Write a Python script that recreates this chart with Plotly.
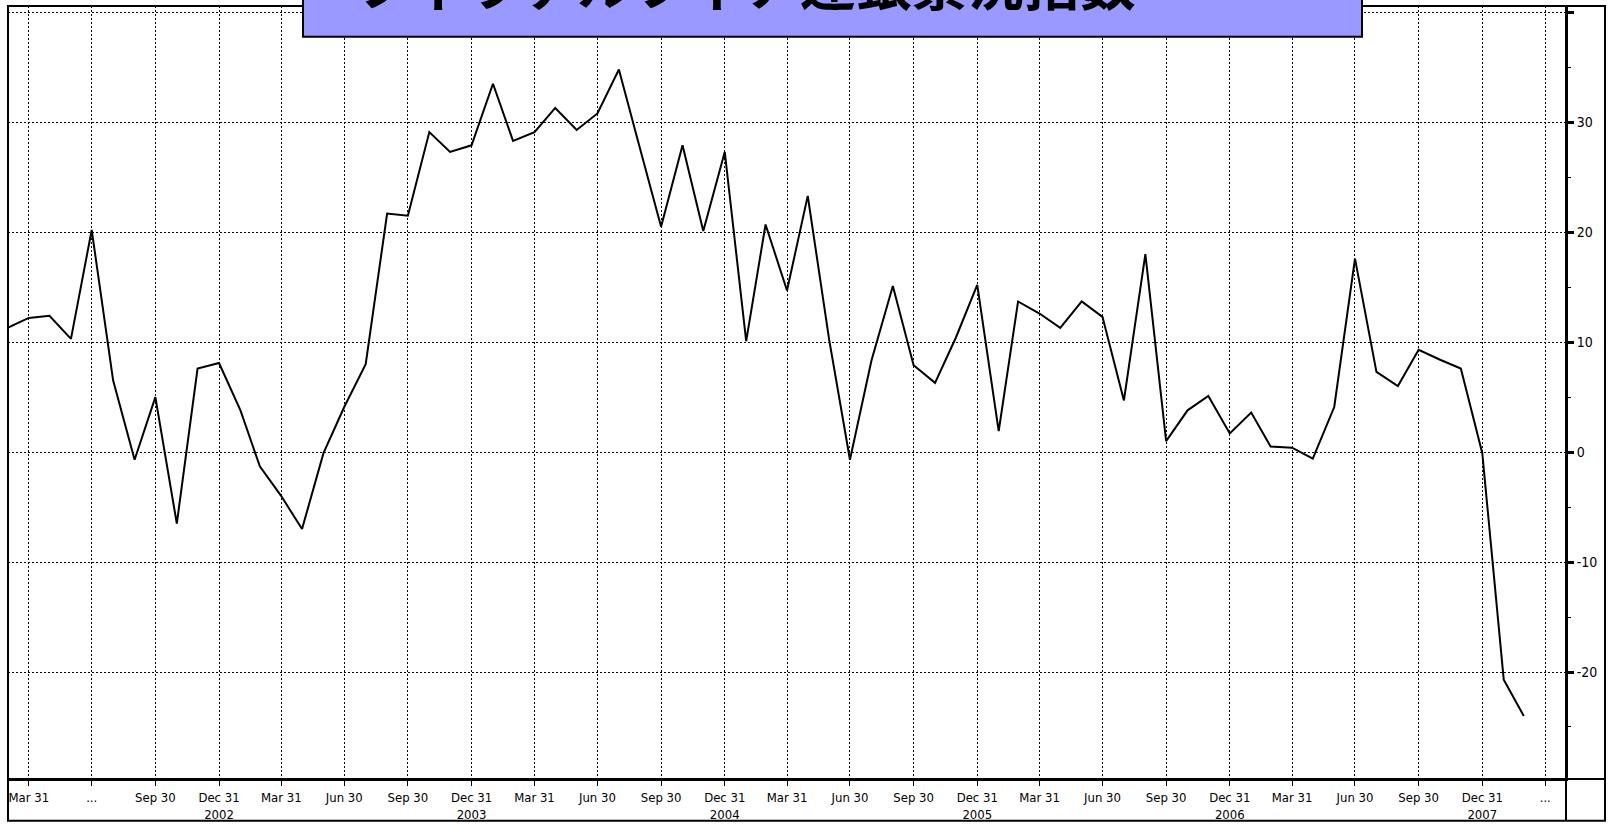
import plotly.graph_objects as go

# ---- data (month-end dates, Philadelphia Fed index) ----
months = [
    "2002-02-28", "2002-03-31", "2002-04-30", "2002-05-31", "2002-06-30", "2002-07-31",
    "2002-08-31", "2002-09-30", "2002-10-31", "2002-11-30", "2002-12-31",
    "2003-01-31", "2003-02-28", "2003-03-31", "2003-04-30", "2003-05-31", "2003-06-30",
    "2003-07-31", "2003-08-31", "2003-09-30", "2003-10-31", "2003-11-30", "2003-12-31",
    "2004-01-31", "2004-02-29", "2004-03-31", "2004-04-30", "2004-05-31", "2004-06-30",
    "2004-07-31", "2004-08-31", "2004-09-30", "2004-10-31", "2004-11-30", "2004-12-31",
    "2005-01-31", "2005-02-28", "2005-03-31", "2005-04-30", "2005-05-31", "2005-06-30",
    "2005-07-31", "2005-08-31", "2005-09-30", "2005-10-31", "2005-11-30", "2005-12-31",
    "2006-01-31", "2006-02-28", "2006-03-31", "2006-04-30", "2006-05-31", "2006-06-30",
    "2006-07-31", "2006-08-31", "2006-09-30", "2006-10-31", "2006-11-30", "2006-12-31",
    "2007-01-31", "2007-02-28", "2007-03-31", "2007-04-30", "2007-05-31", "2007-06-30",
    "2007-07-31", "2007-08-31", "2007-09-30", "2007-10-31", "2007-11-30", "2007-12-31",
    "2008-01-31", "2008-02-29",
]
index_values = [
    11.3, 12.2, 12.4, 10.3, 20.2, 6.5, -0.7, 5.0, -6.5, 7.6, 8.1,
    3.8, -1.3, -4.0, -7.0, -0.1, 4.1, 8.0, 21.7, 21.5, 29.1, 27.3, 27.9,
    33.5, 28.3, 29.1, 31.3, 29.3, 30.8, 34.8, 27.5, 20.5, 27.9, 20.1, 27.3,
    10.1, 20.7, 14.7, 23.3, 10.2, -0.7, 8.3, 15.1, 7.9, 6.3, 10.4, 15.2,
    1.9, 13.7, 12.6, 11.3, 13.7, 12.3, 4.7, 18.0, 1.0, 3.8, 5.1, 1.7,
    3.6, 0.5, 0.4, -0.6, 4.1, 17.6, 7.3, 6.0, 9.3, 8.4, 7.6, -0.1,
    -20.7, -24.0,
]

tick_dates = [
    "2002-03-31", "2002-06-30", "2002-09-30", "2002-12-31",
    "2003-03-31", "2003-06-30", "2003-09-30", "2003-12-31",
    "2004-03-31", "2004-06-30", "2004-09-30", "2004-12-31",
    "2005-03-31", "2005-06-30", "2005-09-30", "2005-12-31",
    "2006-03-31", "2006-06-30", "2006-09-30", "2006-12-31",
    "2007-03-31", "2007-06-30", "2007-09-30", "2007-12-31",
    "2008-03-31",
]
tick_labels = [
    "Mar 31", "...", "Sep 30", "Dec 31<br>2002",
    "Mar 31", "Jun 30", "Sep 30", "Dec 31<br>2003",
    "Mar 31", "Jun 30", "Sep 30", "Dec 31<br>2004",
    "Mar 31", "Jun 30", "Sep 30", "Dec 31<br>2005",
    "Mar 31", "Jun 30", "Sep 30", "Dec 31<br>2006",
    "Mar 31", "Jun 30", "Sep 30", "Dec 31<br>2007",
    "...",
]
y_ticks = [-20, -10, 0, 10, 20, 30, 40]
y_tick_labels = ["-20", "-10", "0", "10", "20", "30", ""]

title_text = "フィラデルフィア連銀景況指数"

# ---- layout geometry (pixels) ----
W, H = 1610, 828
L, R, T, B = 8, 44, 6, 44
pw, ph = W - L - R, H - T - B


def px(x):
    return (x - L) / pw


def py(y):
    return (H - B - y) / ph


tick_font = dict(family="Liberation Sans Narrow, DejaVu Sans Condensed, Arial Narrow, sans-serif",
                 size=13, color="black")

fig = go.Figure()
fig.add_trace(go.Scatter(
    x=months, y=index_values, mode="lines",
    line=dict(color="black", width=2),
    showlegend=False, hoverinfo="x+y",
))

fig.update_layout(
    width=W, height=H,
    margin=dict(l=L, r=R, t=T, b=B, pad=0),
    paper_bgcolor="white", plot_bgcolor="white",
    xaxis=dict(
        type="date",
        range=["2002-03-01", "2008-04-30"],
        tickmode="array", tickvals=tick_dates, ticktext=tick_labels,
        tickangle=0,
        showgrid=True, gridcolor="black", gridwidth=1, griddash="2px,2px",
        showline=True, linecolor="black", linewidth=2,
        ticks="outside", ticklen=5, tickwidth=1, tickcolor="black",
        tickfont=tick_font, zeroline=False,
    ),
    yaxis=dict(
        side="right",
        range=[-29.73, 40.57],
        tickmode="array", tickvals=y_ticks, ticktext=y_tick_labels,
        showgrid=True, gridcolor="black", gridwidth=1, griddash="2px,2px",
        showline=True, linecolor="black", linewidth=2,
        ticks="outside", ticklen=6, tickwidth=3, tickcolor="black",
        minor=dict(dtick=5, tick0=5, ticks="outside", ticklen=3, tickwidth=1,
                   tickcolor="black", showgrid=False),
        tickfont=dict(tick_font, size=14), zeroline=False,
    ),
)

shapes = []
# outer frame
shapes.append(dict(type="rect", xref="paper", yref="paper",
                   x0=px(8), x1=px(1605), y0=py(826), y1=py(6),
                   line=dict(color="black", width=2), fillcolor="rgba(0,0,0,0)", layer="above"))
# plot-area bottom separator across right strip
shapes.append(dict(type="line", xref="paper", yref="paper",
                   x0=px(8), x1=px(1605), y0=py(784), y1=py(784),
                   line=dict(color="black", width=2), layer="above"))
# right axis line continuing down through bottom strip
shapes.append(dict(type="line", xref="paper", yref="paper",
                   x0=px(1566), x1=px(1566), y0=py(826), y1=py(6),
                   line=dict(color="black", width=2), layer="above"))
# title box
shapes.append(dict(type="rect", xref="paper", yref="paper",
                   x0=px(303), x1=px(1362), y0=py(37), y1=py(-10),
                   line=dict(color="black", width=2), fillcolor="#9999FF", layer="above"))
fig.update_layout(shapes=shapes)

fig.add_annotation(
    x=px(745), y=py(-20), xref="paper", yref="paper",
    text="<b>" + title_text + "</b>", showarrow=False,
    xanchor="center", yanchor="middle",
    font=dict(family="Noto Sans CJK JP, sans-serif", size=56, color="black"),
)

fig.write_html(
    "out.html",
    config={"displayModeBar": False},
    post_script="document.body.style.margin='0';document.body.style.overflow='hidden';",
)
